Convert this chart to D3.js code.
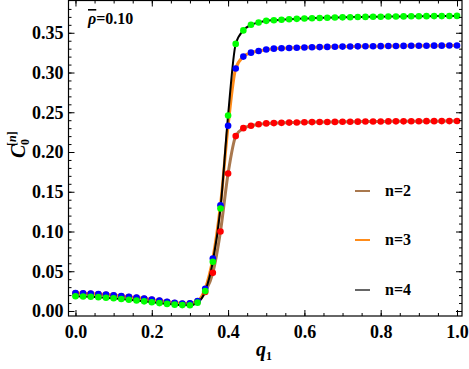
<!DOCTYPE html>
<html>
<head>
<meta charset="utf-8">
<script src="https://cdn.jsdelivr.net/npm/d3@7"></script>
<style>
  html, body { margin: 0; padding: 0; background: #fff; }
  svg { display: block; }
  .tick text { font-family: "Liberation Serif", "Times New Roman", serif; font-weight: bold; fill: #000; }
</style>
</head>
<body>
<div id="chart"></div>
<script>
// q1 grid of the points
var qValues = [0.00, 0.02, 0.04, 0.06, 0.08, 0.10, 0.12, 0.14, 0.16, 0.18,
               0.20, 0.22, 0.24, 0.26, 0.28, 0.30, 0.32, 0.34, 0.36, 0.38,
               0.40, 0.42, 0.44, 0.46, 0.48, 0.50, 0.52, 0.54, 0.56, 0.58,
               0.60, 0.62, 0.64, 0.66, 0.68, 0.70, 0.72, 0.74, 0.76, 0.78,
               0.80, 0.82, 0.84, 0.86, 0.88, 0.90, 0.92, 0.94, 0.96, 0.98, 1.00];

// C0^[n] for n = 2, 3, 4
var n2Values = [0.0222, 0.0219, 0.0215, 0.0210, 0.0203, 0.0195, 0.0186, 0.0176, 0.0165, 0.0153,
                0.0140, 0.0127, 0.0114, 0.0101, 0.0092, 0.0093, 0.0118, 0.0240, 0.0480, 0.1000,
                0.1730, 0.2200, 0.2300, 0.2330, 0.2350, 0.2360, 0.2364, 0.2367, 0.2370, 0.2372,
                0.2374, 0.2376, 0.2377, 0.2378, 0.2379, 0.2380, 0.2381, 0.2382, 0.2383, 0.2384,
                0.2384, 0.2385, 0.2386, 0.2386, 0.2387, 0.2387, 0.2388, 0.2388, 0.2389, 0.2389, 0.2390];
var n3Values = [0.0225, 0.0222, 0.0218, 0.0213, 0.0206, 0.0198, 0.0189, 0.0179, 0.0168, 0.0156,
                0.0143, 0.0130, 0.0117, 0.0104, 0.0095, 0.0096, 0.0125, 0.0280, 0.0660, 0.1330,
                0.2330, 0.3050, 0.3200, 0.3250, 0.3270, 0.3290, 0.3300, 0.3305, 0.3309, 0.3312,
                0.3315, 0.3318, 0.3320, 0.3322, 0.3324, 0.3326, 0.3328, 0.3329, 0.3330, 0.3331,
                0.3332, 0.3333, 0.3334, 0.3335, 0.3336, 0.3337, 0.3337, 0.3338, 0.3338, 0.3339, 0.3339];
var n4Values = [0.0185, 0.0183, 0.0179, 0.0174, 0.0167, 0.0160, 0.0151, 0.0142, 0.0132, 0.0121,
                0.0110, 0.0099, 0.0089, 0.0080, 0.0074, 0.0073, 0.0105, 0.0250, 0.0620, 0.1290,
                0.2460, 0.3360, 0.3530, 0.3600, 0.3630, 0.3650, 0.3658, 0.3664, 0.3670, 0.3675,
                0.3679, 0.3683, 0.3686, 0.3689, 0.3692, 0.3694, 0.3696, 0.3698, 0.3700, 0.3701,
                0.3702, 0.3704, 0.3705, 0.3706, 0.3707, 0.3708, 0.3709, 0.3710, 0.3710, 0.3711, 0.3712];

var seriesNames = ["n=2", "n=3", "n=4"];
var xTickLabels = [0.0, 0.2, 0.4, 0.6, 0.8, 1.0];
var yTickLabels = [0.00, 0.05, 0.10, 0.15, 0.20, 0.25, 0.30, 0.35];

function init() {
    var w = 469, h = 369;
    var left = 68.5, right = 462, top = 0.5, bottom = 316;
    var serif = '"Liberation Serif", "Times New Roman", serif';

    var xScale = d3.scaleLinear().domain([-0.0183, 1.0131]).range([left, right]);
    var yScale = d3.scaleLinear().domain([-0.0063, 0.3906]).range([bottom, top]);

    var svg = d3.select("#chart").append("svg")
        .attr("width", w)
        .attr("height", h);

    var series = [
        { name: seriesNames[0], values: n2Values, line: "#a9784e", lineWidth: 3, point: "#ff0000" },
        { name: seriesNames[1], values: n3Values, line: "#ff8c1a", lineWidth: 3, point: "#0000ff" },
        { name: seriesNames[2], values: n4Values, line: "#000000", lineWidth: 2, point: "#00ff00" }
    ];

    var line = d3.line()
        .x(function(d, i) { return xScale(qValues[i]); })
        .y(function(d) { return yScale(d); })
        .curve(d3.curveMonotoneX);

    var plot = svg.append("g");

    // lines first, points on top
    series.forEach(function(s) {
        plot.append("path")
            .datum(s.values)
            .attr("fill", "none")
            .attr("stroke", s.line)
            .attr("stroke-width", s.lineWidth)
            .attr("d", line);
    });
    series.forEach(function(s) {
        plot.selectAll(null)
            .data(s.values)
            .enter()
            .append("circle")
            .attr("cx", function(d, i) { return xScale(qValues[i]); })
            .attr("cy", function(d) { return yScale(d); })
            .attr("r", 3.3)
            .attr("fill", s.point);
    });

    // frame ticks (inward), major + minor
    var xMinor = d3.range(0, 1.0001, 0.05);
    var yMinor = d3.range(0, 0.3801, 0.01);

    function frameAxis(axisFn, scale, major, minor, transform, labels, fmt, pad) {
        var g = svg.append("g").attr("transform", transform);
        g.append("g").call(axisFn(scale).tickValues(minor).tickSize(-3).tickFormat(""));
        g.append("g").call(axisFn(scale).tickValues(major).tickSize(-6)
            .tickPadding(pad)
            .tickFormat(labels ? d3.format(fmt) : ""));
        g.selectAll(".domain").remove();
        g.selectAll(".tick line").attr("stroke", "#000");
        g.selectAll(".tick text").style("font-size", "18px");
        return g;
    }

    frameAxis(d3.axisBottom, xScale, xTickLabels, xMinor, "translate(0," + bottom + ")", true, ".1f", 9);
    frameAxis(d3.axisTop, xScale, xTickLabels, xMinor, "translate(0," + top + ")", false, "", 3);
    frameAxis(d3.axisLeft, yScale, yTickLabels, yMinor, "translate(" + left + ",0)", true, ".2f", 5);
    frameAxis(d3.axisRight, yScale, yTickLabels, yMinor, "translate(" + right + ",0)", false, "", 3);

    svg.append("rect")
        .attr("x", left).attr("y", top)
        .attr("width", right - left).attr("height", bottom - top)
        .attr("fill", "none")
        .attr("stroke", "#000")
        .attr("stroke-width", 1.2);

    // axis labels
    var xl = svg.append("text")
        .attr("x", 256).attr("y", 356)
        .attr("font-family", serif).attr("font-weight", "bold");
    xl.append("tspan").attr("font-style", "italic").attr("font-size", "20px").text("q");
    xl.append("tspan").attr("font-size", "12px").attr("dy", 4).text("1");

    var yl = svg.append("g").attr("transform", "translate(25,158) rotate(-90)");
    yl.append("text")
        .attr("font-family", serif).attr("font-weight", "bold").attr("font-style", "italic")
        .attr("font-size", "20px").text("C");
    yl.append("text")
        .attr("x", 13).attr("y", 4)
        .attr("font-family", serif).attr("font-weight", "bold")
        .attr("font-size", "12px").text("0");
    var sup = yl.append("text")
        .attr("x", 12).attr("y", -9)
        .attr("font-family", serif).attr("font-weight", "bold")
        .attr("font-size", "12px");
    sup.append("tspan").text("[");
    sup.append("tspan").attr("font-style", "italic").text("n");
    sup.append("tspan").text("]");

    // annotation
    var ann = svg.append("text")
        .attr("x", 88).attr("y", 24)
        .attr("font-family", serif).attr("font-weight", "bold")
        .attr("font-size", "16px");
    ann.append("tspan").attr("font-style", "italic")
        .style("text-decoration", "overline").text("\u03C1");
    ann.append("tspan").text("=0.10");

    // legend
    var legend = svg.append("g");
    var legendY = [191, 240, 290];
    series.forEach(function(s, i) {
        var row = legend.append("g").attr("transform", "translate(355," + legendY[i] + ")");
        row.append("line")
            .attr("x1", 0).attr("x2", 15)
            .attr("stroke", i === 2 ? "#333" : s.line)
            .attr("stroke-width", i === 2 ? 1.5 : 2);
        row.append("text")
            .attr("x", 30).attr("y", 5)
            .attr("font-family", serif).attr("font-weight", "bold")
            .attr("font-size", "16px")
            .text(s.name);
    });
}

window.onload = init;
</script>
</body>
</html>
